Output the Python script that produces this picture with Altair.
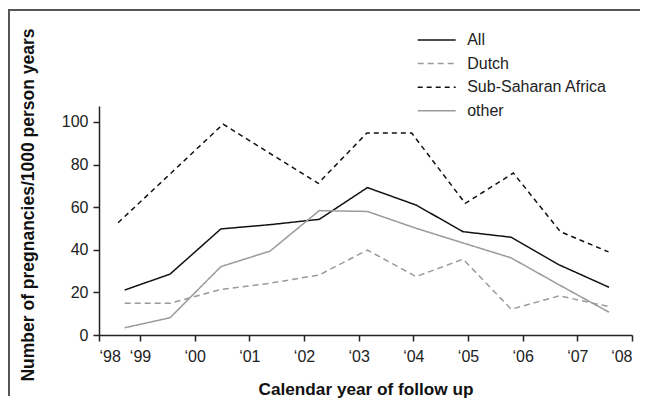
import altair as alt
import pandas as pd

# ---- data ----
groups = ["All", "Dutch", "Sub-Saharan Africa", "other"]
years = [1998.72, 1999.55, 2000.48, 2001.38, 2002.28, 2003.16, 2004.05, 2004.91, 2005.79, 2006.67, 2007.58]
ssa_years = [1998.60, 1999.55, 2000.52, 2001.38, 2002.26, 2003.15, 2003.97, 2004.95, 2005.83, 2006.69, 2007.57]
all_vals = [21.1, 28.6, 49.8, 51.8, 54.3, 69.2, 61.0, 48.5, 45.9, 32.9, 22.4]
dutch_vals = [14.9, 14.9, 21.4, 24.3, 28.2, 39.9, 27.4, 35.6, 12.1, 18.4, 13.3]
ssa_vals = [52.7, 75.6, 99.0, 85.2, 71.2, 94.8, 94.8, 61.8, 76.0, 48.5, 39.0]
other_vals = [3.4, 8.1, 32.1, 39.4, 58.4, 58.0, 50.1, 43.2, 36.2, 23.5, 10.7]

x_ticks = [1998.25, 1999, 2000, 2001, 2002, 2003, 2004, 2005, 2006, 2007, 2008]
y_ticks = [0, 20, 40, 60, 80, 100]

colors = ["#111111", "#9a9a9a", "#111111", "#9a9a9a"]
dashes = [[1, 0], [6, 4], [5, 4], [1, 0]]

rows = []
for g, xs, vs in [("All", years, all_vals), ("Dutch", years, dutch_vals),
                  ("Sub-Saharan Africa", ssa_years, ssa_vals), ("other", years, other_vals)]:
    for x, v in zip(xs, vs):
        rows.append({"year": x, "value": v, "group": g})
df = pd.DataFrame(rows)

FONT = "Liberation Sans"

legend = alt.Legend(
    orient="none", legendX=317.7, legendY=-76, title=None,
    symbolType="stroke", symbolSize=1444, symbolStrokeWidth=1.5,
    labelFontSize=16, labelFont=FONT, labelColor="#222222", labelOffset=10.5,
    clipHeight=20, rowPadding=3.6,
)

lines = alt.Chart(df).mark_line(strokeWidth=1.5).encode(
    x=alt.X("year:Q",
            scale=alt.Scale(domain=[1998.25, 2008], nice=False, zero=False),
            axis=alt.Axis(values=x_ticks,
                          labelExpr="'\u2018' + substring(toString(round(datum.value)), 2, 4)",
                          title="Calendar year of follow up",
                          titleX=266.5, titleY=59, titleBaseline="alphabetic",
                          titleFontSize=17.2, labelPadding=7, zindex=2)),
    y=alt.Y("value:Q",
            scale=alt.Scale(domain=[0, 107.5], nice=False),
            axis=alt.Axis(values=y_ticks, title="Number of pregnancies/1000 person years",
                          titleX=-65.7, titleY=98.5, titleBaseline="alphabetic",
                          titleAlign="center", titleAngle=270, titleFontSize=17.5,
                          labelPadding=5, zindex=2)),
    color=alt.Color("group:N", scale=alt.Scale(domain=groups, range=colors), legend=legend),
    strokeDash=alt.StrokeDash("group:N", scale=alt.Scale(domain=groups, range=dashes), legend=legend),
    detail="group:N",
)

one = alt.Data(values=[{}])
top_border = alt.Chart(one).mark_rule(stroke="#555555", strokeWidth=2, strokeCap="butt").encode(
    x=alt.value(-91), x2=alt.value(541), y=alt.value(-96)
)
left_border = alt.Chart(one).mark_rule(stroke="#555555", strokeWidth=2, strokeCap="butt").encode(
    x=alt.value(-90), y=alt.value(-97), y2=alt.value(290)
)

chart = alt.layer(top_border, left_border, lines).properties(
    width=533, height=229,
    autosize=alt.AutoSizeParams(type="none"),
    padding={"left": 91, "top": 98, "right": 10, "bottom": 63},
    background="white",
).configure_view(stroke=None).configure_axis(
    grid=False, domainColor="#222222", domainWidth=1.5, tickColor="#222222",
    tickWidth=1.5, tickSize=6, labelFont=FONT, labelFontSize=16, labelColor="#222222",
    titleFont=FONT, titleFontWeight="bold", titleColor="#111111",
)

chart.save("out.html", embed_options={"renderer": "svg", "actions": False})
